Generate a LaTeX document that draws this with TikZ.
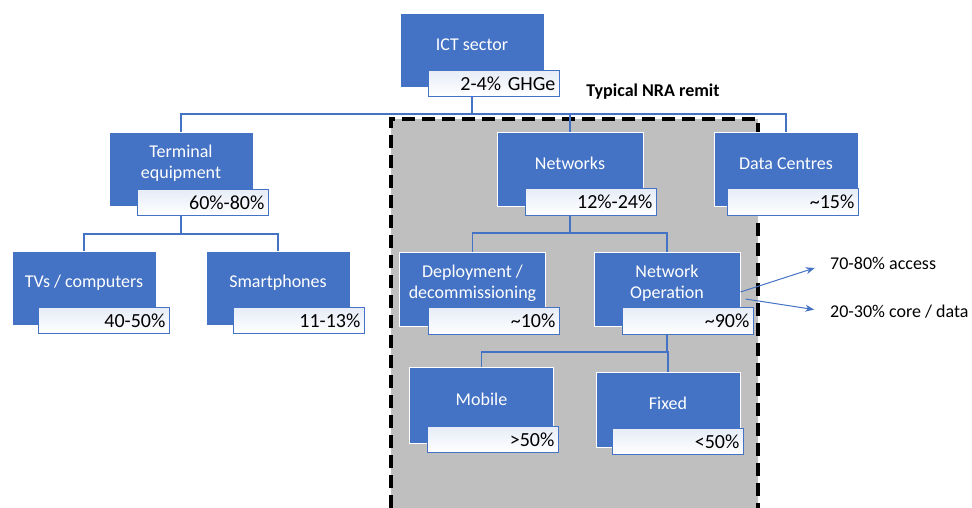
\documentclass[tikz,border=0pt]{standalone}
\usepackage{fontspec}
\setmainfont{Carlito}
\usetikzlibrary{arrows.meta}

\begin{document}
\begin{tikzpicture}[x = 1pt, y = -1pt,
  box/.style = {rectangle, fill = boxblue, draw = white, line width = 1pt, minimum width = 144pt, minimum height = 74pt, inner sep = 0pt},
  boxtext/.style = {text = white, align = center, inner sep = 0pt, font = \fontsize{18}{21}\selectfont, yshift = 6pt},
  pct/.style = {rectangle, draw = boxblue, line width = 1.2pt, top color = lblblue, bottom color = white, minimum width = 131pt, minimum height = 26pt, text width = 123pt, align = right, inner sep = 0pt, anchor = south east, font = \fontsize{20}{22}\selectfont},
  conn/.style = {draw = boxblue, line width = 1.5pt},
  note/.style = {inner sep = 0pt, anchor = west, font = \fontsize{18}{21}\selectfont},
  tip/.style = {draw = boxblue, line width = 1pt, -{Stealth[length = 9pt, width = 7pt]}, shorten > = 16pt}]
\definecolor{boxblue}{HTML}{4472C4}
\definecolor{lblblue}{HTML}{E6ECF7}
\definecolor{remitgrey}{HTML}{BFBFBF}
\useasboundingbox (0, 0) rectangle (972, 508);
\fill[remitgrey] (391, 119) rectangle (758, 508);
\draw[line width = 4pt, dash pattern = on 13pt off 7pt] (391, 508) -- (391, 119) -- (758, 119) -- (758, 508);
\node[font = \fontsize{18}{21}\selectfont\bfseries] (remit) at (653, 92) {Typical NRA remit};
\node[box] (ict) at (472, 51) {};
\node[box] (term) at (181, 169.5) {};
\node[box] (tvs) at (84, 288.5) {};
\node[box] (smart) at (278, 288.5) {};
\node[box, minimum width = 146pt] (net) at (570, 169.5) {};
\node[box] (dc) at (786, 169.5) {};
\node[box, minimum width = 146pt] (dep) at (472.5, 289) {};
\node[box, minimum width = 146pt] (netop) at (667, 289) {};
\node[box, minimum height = 76pt] (mob) at (481.5, 405) {};
\node[box, minimum height = 75pt] (fix) at (668, 409.5) {};
\coordinate (bus1) at (0, 114);
\coordinate (bus2) at (0, 234);
\coordinate (bus3) at (0, 233);
\coordinate (bus4) at (0, 352);
\draw[conn] (ict.south |- 0, 97) -- (ict.south |- bus1) -| (term.north);
\draw[conn] (ict.south |- bus1) -| (net.north);
\draw[conn] (ict.south |- bus1) -| (dc.north);
\draw[conn] (term.south) -- (term.south |- bus2) -| (tvs.north);
\draw[conn] (term.south |- bus2) -| (smart.north);
\draw[conn] (net.south) -- (net.south |- bus3) -| (dep.north);
\draw[conn] (net.south |- bus3) -| (netop.north);
\draw[conn] (netop.south) -- (netop.south |- bus4) -| (mob.north);
\draw[conn] (netop.south |- bus4) -| (fix.north);
\node[boxtext] (ictt) at (ict) {ICT sector};
\node[boxtext] (termt) at (term) {Terminal\\equipment};
\node[boxtext] (tvst) at (tvs) {TVs / computers};
\node[boxtext] (smartt) at (smart) {Smartphones};
\node[boxtext] (nett) at (net) {Networks};
\node[boxtext] (dct) at (dc) {Data Centres};
\node[boxtext] (dept) at (dep) {Deployment /\\decommissioning};
\node[boxtext] (netopt) at (netop) {Network\\Operation};
\node[boxtext] (mobt) at (mob) {Mobile};
\node[boxtext] (fixt) at (fix) {Fixed};
\node[pct] (ictl) at (560, 97) {2-4\% GHGe};
\node[pct] (terml) at (269, 216) {60\%-80\%};
\node[pct] (tvsl) at (170, 334) {40-50\%};
\node[pct] (smartl) at (365, 334) {11-13\%};
\node[pct, minimum height = 27pt] (netl) at (657, 216) {12\%-24\%};
\node[pct, minimum height = 27pt] (dcl) at (859, 216) {\textasciitilde15\%};
\node[pct, minimum height = 27pt] (depl) at (560, 335) {\textasciitilde10\%};
\node[pct, minimum height = 27pt] (netopl) at (754, 335) {\textasciitilde90\%};
\node[pct] (mobl) at (559, 453) {>50\%};
\node[pct] (fixl) at (744, 455) {<50\%};
\node[note] (acc) at (830, 263) {70-80\% access};
\node[note] (core) at (830, 312) {20-30\% core / data};
\draw[tip] ([yshift = -3pt]netop.east) -- (acc.west);
\draw[tip] ([shift = {(5pt, -10pt)}]netop.east) -- (core.west);
\end{tikzpicture}
\end{document}
